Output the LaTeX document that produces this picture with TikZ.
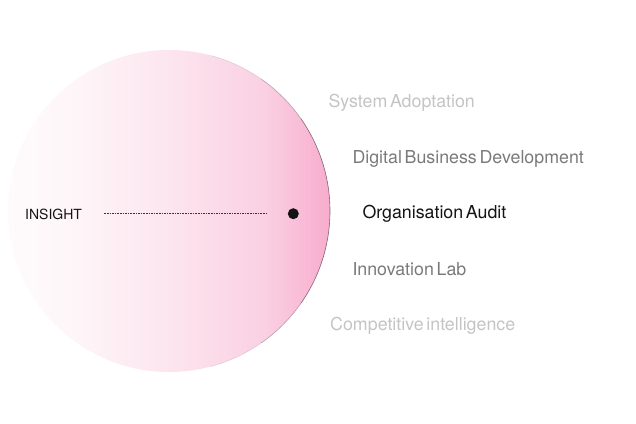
\documentclass[tikz,border=0pt]{standalone}
\usepackage{fontspec}
\setmainfont{TeX Gyre Heros}[WordSpace=0.55]
\definecolor{pk0}{RGB}{254,251,252}
\definecolor{pk1}{RGB}{254,245,248}
\definecolor{pkA}{RGB}{252,228,238}
\definecolor{pkB}{RGB}{250,208,226}
\definecolor{pkC}{RGB}{248,172,206}
\definecolor{lgray}{RGB}{196,196,196}
\definecolor{mgray}{RGB}{122,122,122}
\definecolor{dark}{RGB}{20,20,20}
\definecolor{rim}{RGB}{90,66,78}
\pgfdeclarehorizontalshading{pinkfade}{100bp}{color(0bp)=(pk0); color(25bp)=(pk0); color(36bp)=(pk1); color(51bp)=(pkA); color(65bp)=(pkB); color(75bp)=(pkC); color(100bp)=(pkC)}
\begin{document}
\begin{tikzpicture}[x=1bp,y=-1bp,
  lbl/.style={inner sep=0pt,anchor=base west,font=\fontsize{17.8bp}{20bp}\selectfont},
  rimline/.style={draw=rim,line width=0.6bp}]
\useasboundingbox (0,0) rectangle (636,423);
\shade[shading=pinkfade] (169,211) circle (161bp);
\draw[rimline,opacity=0.75] (169,211) ++(-35:161bp) arc[start angle=-35,end angle=35,radius=161bp];
\draw[rimline,opacity=0.4] (169,211) ++(35:161bp) arc[start angle=35,end angle=55,radius=161bp];
\draw[rimline,opacity=0.4] (169,211) ++(-55:161bp) arc[start angle=-55,end angle=-35,radius=161bp];
\draw[rimline,opacity=0.15] (169,211) ++(55:161bp) arc[start angle=55,end angle=75,radius=161bp];
\draw[rimline,opacity=0.15] (169,211) ++(-75:161bp) arc[start angle=-75,end angle=-55,radius=161bp];
\node[inner sep=0pt,anchor=base west,font=\fontsize{14bp}{16bp}\selectfont,text=dark] (ins) at (25,219) {INSIGHT};
\coordinate (ds) at (104.3,213.7);
\coordinate (de) at (266.7,213.7);
\draw[draw=dark!85,line width=0.7bp,dash pattern=on 1.6bp off 1bp] (ds) -- (de);
\node[circle,fill=dark,inner sep=0pt,minimum size=11bp] (dot) at (293.3,213.7) {};
\node[lbl,text=lgray] (sa) at (328.3,107.5) {System Adoptation};
\node[lbl,text=mgray] (dbd) at (352.3,163) {Digital Business Development};
\node[lbl,text=dark] (oa) at (362.3,218.5) {Organisation Audit};
\node[lbl,text=mgray] (il) at (352.3,275.5) {Innovation Lab};
\node[lbl,text=lgray] (ci) at (330,330.5) {Competitive intelligence};
\end{tikzpicture}
\end{document}
